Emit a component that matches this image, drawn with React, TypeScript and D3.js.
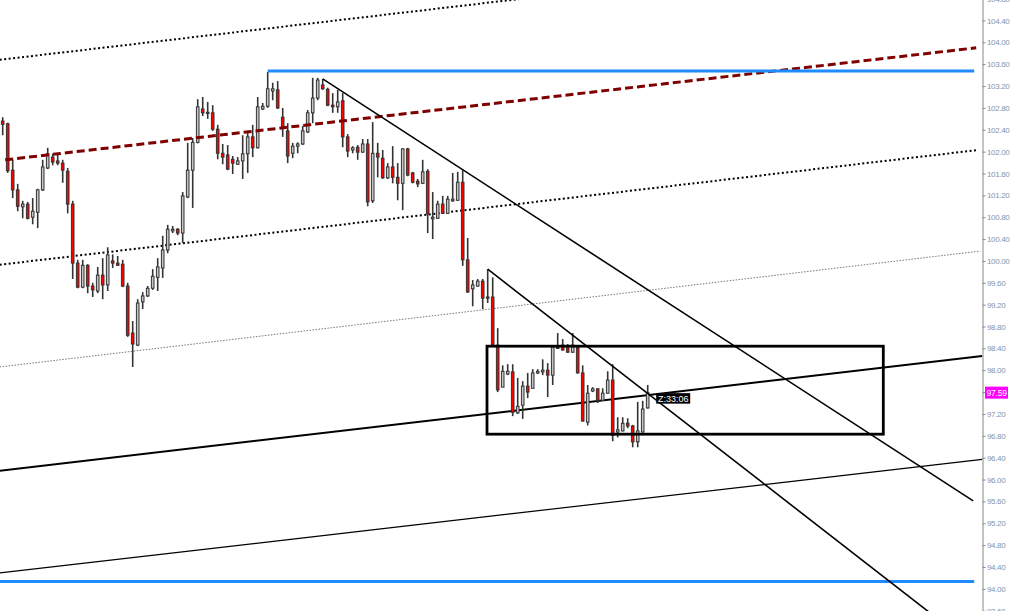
import React, { useEffect, useRef } from 'react';
import * as d3 from 'd3';

// OHLC per bar (bar 0 = left edge)
const opens = [
  102.56, 102.51, 101.66, 101.30, 100.99, 101.04, 100.80, 100.89, 101.30, 101.70,
  101.90, 101.83, 101.79, 101.64, 101.04, 99.96, 99.52, 99.92, 99.54, 99.45,
  99.74, 99.56, 100.00, 99.96, 99.94, 99.54, 98.68, 98.46, 99.25, 99.36,
  99.50, 99.70, 99.87, 100.20, 100.55, 100.58, 100.51, 101.17, 101.66, 102.17,
  102.78, 102.72, 102.71, 102.41, 101.97, 101.94, 101.86, 101.77, 101.83, 101.96,
  102.27, 102.07, 102.78, 102.83, 103.11, 103.13, 102.63, 102.38, 101.97, 102.10,
  102.14, 102.36, 102.71, 102.98, 103.22, 103.14, 102.85, 102.82, 102.93, 102.27,
  102.03, 102.08, 101.99, 102.14, 101.10, 101.97, 101.88, 101.52, 101.72, 101.53,
  101.42, 102.05, 101.61, 101.46, 101.42, 101.64, 100.77, 100.78, 101.04, 100.87,
  101.10, 101.11, 101.44, 100.02, 99.49, 99.54, 99.63, 99.34, 99.34, 98.46,
  97.69, 97.93, 97.97, 97.22, 97.36, 97.71, 97.67, 97.95, 97.97, 98.00,
  97.91, 98.41, 98.46, 98.41, 98.33, 98.41, 97.95, 97.05, 97.62, 97.66,
  97.45, 97.58, 97.82, 96.87, 96.89, 97.03, 96.98, 96.69, 96.87, 97.31,
];
const highs = [
  102.63, 102.53, 101.85, 101.41, 101.10, 101.08, 101.15, 101.32, 101.85, 102.07,
  101.96, 101.97, 101.85, 101.70, 101.10, 100.02, 100.02, 99.94, 99.60, 99.89,
  100.05, 100.25, 100.12, 100.09, 100.02, 99.60, 98.90, 99.30, 99.43, 99.54,
  99.85, 100.05, 100.46, 100.66, 100.64, 100.60, 101.26, 102.16, 102.25, 102.96,
  103.00, 102.91, 102.85, 102.49, 102.14, 102.12, 101.92, 101.90, 102.30, 102.34,
  102.49, 103.00, 102.89, 103.46, 103.26, 103.29, 102.80, 102.52, 102.16, 102.17,
  102.47, 102.76, 103.35, 103.35, 103.33, 103.17, 103.07, 103.13, 103.07, 102.32,
  102.10, 102.12, 102.23, 102.23, 102.54, 102.16, 102.03, 101.79, 102.10, 101.79,
  102.06, 102.07, 101.63, 101.50, 101.85, 101.68, 101.26, 101.10, 101.19, 101.19,
  101.61, 101.63, 101.66, 100.42, 99.65, 99.67, 99.67, 99.85, 99.70, 98.77,
  98.09, 98.11, 98.11, 97.86, 97.80, 97.95, 98.02, 98.02, 98.20, 98.13,
  98.46, 98.68, 98.57, 98.48, 98.68, 98.46, 98.09, 97.73, 97.69, 97.67,
  97.67, 97.98, 98.11, 97.14, 97.14, 97.12, 97.00, 97.42, 97.44, 97.73,
];
const lows = [
  102.30, 101.61, 101.15, 100.91, 100.78, 100.76, 100.67, 100.60, 101.28, 101.68,
  101.75, 101.75, 101.43, 100.87, 99.67, 99.50, 99.50, 99.41, 99.34, 99.41,
  99.30, 99.45, 99.87, 99.91, 99.52, 98.61, 98.06, 98.44, 99.12, 99.34,
  99.47, 99.45, 99.69, 100.14, 100.51, 100.47, 100.33, 101.15, 100.97, 102.15,
  102.65, 102.60, 102.38, 101.86, 101.77, 101.66, 101.59, 101.76, 101.50, 101.61,
  101.90, 102.06, 102.76, 102.80, 102.94, 102.78, 102.27, 101.79, 101.88, 101.97,
  102.12, 102.34, 102.52, 102.94, 103.13, 102.83, 102.71, 102.71, 102.08, 101.90,
  101.97, 101.85, 101.98, 101.00, 101.06, 101.53, 101.50, 101.50, 101.42, 101.11,
  100.93, 101.55, 101.42, 101.35, 101.41, 100.51, 100.40, 100.77, 100.86, 100.86,
  101.08, 101.10, 99.91, 99.42, 99.17, 99.53, 99.12, 99.23, 98.45, 97.60,
  97.69, 97.91, 97.16, 97.20, 97.11, 97.49, 97.67, 97.93, 97.91, 97.51,
  97.73, 98.39, 98.36, 98.32, 98.32, 97.94, 97.06, 96.99, 97.60, 97.40,
  97.44, 97.57, 96.70, 96.77, 96.88, 96.94, 96.59, 96.59, 96.86, 97.30,
];
const closes = [
  102.50, 101.65, 101.30, 101.00, 101.04, 100.78, 100.91, 101.30, 101.72, 101.96,
  101.81, 101.79, 101.66, 101.04, 99.96, 99.52, 99.92, 99.54, 99.47, 99.74,
  99.56, 100.11, 99.96, 99.92, 99.54, 98.64, 98.48, 99.23, 99.36, 99.50,
  99.72, 99.89, 100.20, 100.58, 100.58, 100.51, 101.19, 101.66, 102.17, 102.82,
  102.71, 102.71, 102.41, 101.97, 101.90, 101.68, 101.79, 101.83, 101.96, 102.27,
  102.07, 102.82, 102.83, 103.15, 103.15, 102.80, 102.45, 101.92, 102.10, 102.14,
  102.38, 102.71, 102.98, 103.31, 103.15, 102.85, 102.82, 102.91, 102.27, 102.01,
  102.07, 101.99, 102.14, 101.08, 101.97, 101.90, 101.52, 101.72, 101.53, 101.42,
  102.05, 101.57, 101.44, 101.41, 101.63, 100.86, 100.80, 101.04, 100.87, 101.13,
  101.13, 101.44, 100.02, 99.43, 99.56, 99.63, 99.32, 99.32, 98.46, 97.64,
  97.98, 97.98, 97.23, 97.34, 97.71, 97.60, 97.95, 97.98, 98.00, 97.91,
  98.42, 98.42, 98.37, 98.33, 98.46, 97.95, 97.07, 97.58, 97.66, 97.45,
  97.58, 97.82, 96.81, 96.91, 97.03, 96.98, 96.69, 96.89, 97.29, 97.59,
];

const tickLabels = [
  '93.60', '94.00', '94.40', '94.80', '95.20', '95.60', '96.00', '96.40', '96.80', '97.20',
  '97.60', '98.00', '98.40', '98.80', '99.20', '99.60', '100.00', '100.40', '100.80', '101.20',
  '101.60', '102.00', '102.40', '102.80', '103.20', '103.60', '104.00', '104.40', '104.80',
];

// drawn objects as [bar, price] anchors
const upperDotted: [number, number][] = [[-0.6, 103.68], [105, 104.81]];
const redDashed: [number, number][] = [[0.5, 101.85], [194.7, 103.9]];
const midDotted: [number, number][] = [[-0.6, 99.93], [195.1, 102.03]];
const fineDotted: [number, number][] = [[-0.6, 98.06], [195.5, 100.18]];
const thickSolid: [number, number][] = [[-0.6, 96.16], [195.9, 98.26]];
const thinSolid: [number, number][] = [[-0.6, 94.29], [195.9, 96.37]];
const fallLine1: [number, number][] = [[64, 103.33], [194.1, 95.61]];
const fallLine2: [number, number][] = [[97, 99.85], [188, 93.38]];
const topBlue: [number, number][] = [[53, 103.475], [194.3, 103.475]];
const bottomBlue: [number, number][] = [[-0.6, 94.136], [194.3, 94.136]];
const boxCorners: [number, number][] = [[96.86, 98.44], [176.12, 96.83]];
const timerText = 'Z:33:06';

const W = 1010;
const H = 611;
const FONT = 'Liberation Sans, Arial, sans-serif';

const App: React.FC = () => {
  const svgRef = useRef<SVGSVGElement | null>(null);

  useEffect(() => {
    const svg = d3.select(svgRef.current);
    svg.selectAll('*').remove();

    const x = d3.scaleLinear().domain([0, 129]).range([2.7, 647.7]);
    const y = d3.scaleLinear().domain([93.6, 104.8]).range([610.7, -1.4]);

    svg.append('rect').attr('width', W).attr('height', H).attr('fill', '#fff');

    const line = d3.line<[number, number]>().x(d => x(d[0])).y(d => y(d[1]));

    const drawLine = (pts: [number, number][], color: string, width: number, dash?: string) => {
      const p = svg.append('path')
        .attr('d', line(pts))
        .attr('fill', 'none')
        .attr('stroke', color)
        .attr('stroke-width', width);
      if (dash) p.attr('stroke-dasharray', dash);
    };

    // channel lines
    drawLine(upperDotted, '#000', 2, '2,2.5');
    drawLine(midDotted, '#000', 2, '2,2.5');
    drawLine(fineDotted, '#777', 1, '1.5,1.5');
    drawLine(thickSolid, '#000', 2);
    drawLine(thinSolid, '#000', 1.2);

    // candles
    const g = svg.append('g');
    closes.forEach((c, i) => {
      const o = opens[i];
      const cx = x(i);
      g.append('line')
        .attr('x1', cx).attr('x2', cx)
        .attr('y1', y(highs[i])).attr('y2', y(lows[i]))
        .attr('stroke', '#333').attr('stroke-width', 1.6);
      const top = y(Math.max(o, c));
      const h = Math.max(Math.abs(y(o) - y(c)), 1.2);
      g.append('rect')
        .attr('x', cx - 1.3).attr('width', 2.6)
        .attr('y', top).attr('height', h)
        .attr('fill', c >= o ? '#c4c4c4' : '#ff0000')
        .attr('stroke', '#333').attr('stroke-width', 1);
    });

    drawLine(redDashed, '#800000', 3, '8,4');
    drawLine(topBlue, '#1e8cff', 3);
    drawLine(bottomBlue, '#1e8cff', 3);
    drawLine(fallLine1, '#000', 1.6);
    drawLine(fallLine2, '#000', 1.6);

    // box
    const [b0, b1] = boxCorners;
    svg.append('rect')
      .attr('x', x(b0[0])).attr('y', y(b0[1]))
      .attr('width', x(b1[0]) - x(b0[0]))
      .attr('height', y(b1[1]) - y(b0[1]))
      .attr('fill', 'none').attr('stroke', '#000').attr('stroke-width', 2.8);

    // timer label
    const last = closes.length - 1;
    const tx = x(last) + 8.5;
    const ty = y(closes[last]) + 0.5;
    svg.append('rect')
      .attr('x', tx).attr('y', ty).attr('width', 34).attr('height', 10.5)
      .attr('fill', '#000');
    svg.append('text')
      .attr('x', tx + 17).attr('y', ty + 8.5)
      .attr('text-anchor', 'middle')
      .attr('font-family', FONT)
      .attr('font-size', 9)
      .attr('fill', '#fff')
      .text(timerText);

    // right axis
    const axis = d3.axisRight(y)
      .tickValues(tickLabels.map(Number))
      .tickFormat((d, i) => tickLabels[i])
      .tickSize(3)
      .tickSizeOuter(0)
      .tickPadding(1.5);
    const ag = svg.append('g')
      .attr('transform', 'translate(982.5,0)')
      .call(axis);
    ag.select('.domain').attr('stroke', '#888');
    ag.selectAll('.tick line').attr('stroke', '#888');
    ag.selectAll('.tick text')
      .attr('fill', '#8494aa')
      .attr('font-size', 8)
      .attr('letter-spacing', -0.35)
      .attr('font-family', FONT);

    // last price tag
    const py = y(closes[last]);
    svg.append('rect')
      .attr('x', 985).attr('y', py - 6).attr('width', 23).attr('height', 12)
      .attr('fill', '#ff00ff');
    svg.append('text')
      .attr('x', 986.5).attr('y', py + 3)
      .attr('font-family', FONT)
      .attr('font-size', 8.5)
      .attr('letter-spacing', -0.2)
      .attr('fill', '#fff')
      .text(closes[last].toFixed(2));
  }, []);

  return (
    <svg
      ref={svgRef}
      width={W}
      height={H}
      style={{ position: 'absolute', left: 0, top: 0, display: 'block' }}
    />
  );
};

export default App;
